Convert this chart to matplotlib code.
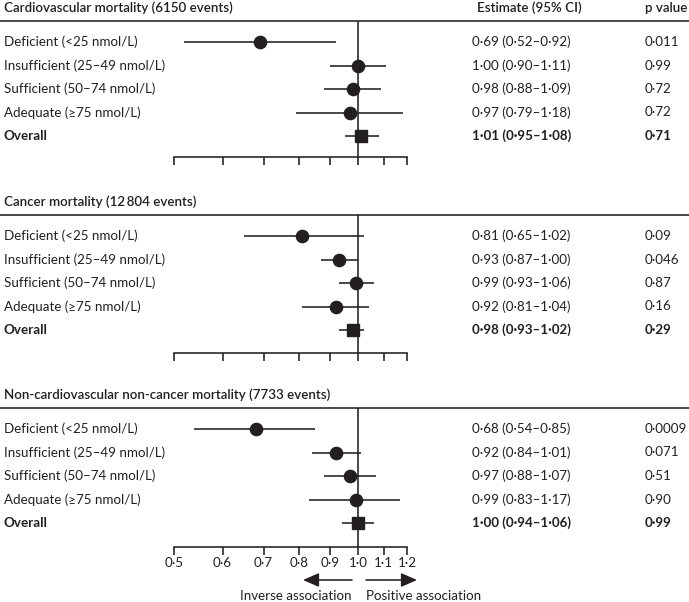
import matplotlib
matplotlib.use("Agg")
import matplotlib.pyplot as plt
from matplotlib.ticker import NullLocator, FixedLocator, FixedFormatter
import matplotlib.transforms as mtransforms

plt.rcParams['font.family'] = ['Lato', 'DejaVu Sans']

# ---------------- data ----------------
categories = ["Deficient (<25 nmol/L)", "Insufficient (25\u201349 nmol/L)",
              "Sufficient (50\u201374 nmol/L)", "Adequate (\u226575 nmol/L)", "Overall"]

titles = ["Cardiovascular mortality (6150 events)",
          "Cancer mortality (12\u2009804 events)",
          "Non-cardiovascular non-cancer mortality (7733 events)"]

cv_est = [0.69, 1.00, 0.98, 0.97, 1.01]
cv_lo = [0.52, 0.90, 0.88, 0.79, 0.95]
cv_hi = [0.92, 1.11, 1.09, 1.18, 1.08]
cv_p = ["0\u00b7011", "0\u00b799", "0\u00b772", "0\u00b772", "0\u00b771"]

ca_est = [0.81, 0.93, 0.99, 0.92, 0.98]
ca_lo = [0.65, 0.87, 0.93, 0.81, 0.93]
ca_hi = [1.02, 1.00, 1.06, 1.04, 1.02]
ca_p = ["0\u00b709", "0\u00b7046", "0\u00b787", "0\u00b716", "0\u00b729"]

nc_est = [0.68, 0.92, 0.97, 0.99, 1.00]
nc_lo = [0.54, 0.84, 0.88, 0.83, 0.94]
nc_hi = [0.85, 1.01, 1.07, 1.17, 1.06]
nc_p = ["0\u00b70009", "0\u00b7071", "0\u00b751", "0\u00b790", "0\u00b799"]

tick_values = [0.5, 0.6, 0.7, 0.8, 0.9, 1.0, 1.1, 1.2]
tick_labels = ["0\u00b75", "0\u00b76", "0\u00b77", "0\u00b78", "0\u00b79", "1\u00b70", "1\u00b71", "1\u00b72"]

header_est = "Estimate (95% CI)"
header_p = "p value"
arrow_left_label = "Inverse association"
arrow_right_label = "Positive association"

panels = [(titles[0], cv_est, cv_lo, cv_hi, cv_p),
          (titles[1], ca_est, ca_lo, ca_hi, ca_p),
          (titles[2], nc_est, nc_lo, nc_hi, nc_p)]

# ---------------- layout ----------------
W, H = 689, 602
DPI = 100
fig = plt.figure(figsize=(W / DPI, H / DPI), dpi=DPI)
INK = "#231f20"
FS = 9.6
LW = 1.15


def fx(px):
    return px / W


def fy(py):
    return 1 - py / H


def dot(v):
    return f"{v:.2f}".replace(".", "\u00b7")


sep_y = [21, 215, 408]
axis_y = [157, 353, 547]
row0_off = 21.0
row_step = 23.5
ax_left, ax_right = 174, 407
x_label, x_est, x_p = 4, 472, 645
x_hdr_est = 477

for i, (title, est, lo, hi, pv) in enumerate(panels):
    S, B = sep_y[i], axis_y[i]
    ax = fig.add_axes([fx(ax_left), fy(B), (ax_right - ax_left) / W, (B - S) / H])
    ax.set_xscale("log")
    ax.set_xlim(0.5, 1.2)
    top = -row0_off / row_step
    bottom = (B - S - row0_off) / row_step
    ax.set_ylim(bottom, top)
    for s in ("top", "left", "right"):
        ax.spines[s].set_visible(False)
    ax.spines["bottom"].set_linewidth(LW)
    ax.spines["bottom"].set_color(INK)
    ax.xaxis.set_major_locator(FixedLocator(tick_values))
    ax.xaxis.set_minor_locator(NullLocator())
    if i == 2:
        ax.xaxis.set_major_formatter(FixedFormatter(tick_labels))
    else:
        ax.xaxis.set_major_formatter(FixedFormatter([""] * len(tick_values)))
    ax.tick_params(axis="x", which="major", direction="out", length=5.5, width=LW,
                   color=INK, labelsize=FS, labelcolor=INK, pad=2)
    ax.set_yticks([])
    ax.patch.set_alpha(0)

    ax.axvline(1.0, color=INK, lw=LW, zorder=2)

    rows = list(range(len(categories)))
    for r in rows:
        ax.plot([lo[r], hi[r]], [r, r], color=INK, lw=LW, zorder=3, solid_capstyle="butt")
        m = "s" if r == len(categories) - 1 else "o"
        ax.plot([est[r]], [r], marker=m, ms=8.8, color=INK, mec=INK, zorder=4, ls="none")

    tr = mtransforms.blended_transform_factory(fig.transFigure, ax.transData)
    for r in rows:
        bold = (r == len(categories) - 1)
        fw = "bold" if bold else "normal"
        ax.text(fx(x_label), r, categories[r], transform=tr, ha="left", va="center",
                fontsize=FS, color=INK, fontweight=fw, clip_on=False)
        ax.text(fx(x_est), r, f"{dot(est[r])} ({dot(lo[r])}\u2013{dot(hi[r])})",
                transform=tr, ha="left", va="center", fontsize=FS, color=INK,
                fontweight=fw, clip_on=False)
        ax.text(fx(x_p), r, pv[r], transform=tr, ha="left", va="center",
                fontsize=FS, color=INK, fontweight=fw, clip_on=False)

    # separator and title
    fig.add_artist(plt.Line2D([0, 1], [fy(S), fy(S)], transform=fig.transFigure,
                              color=INK, lw=LW))
    fig.text(fx(x_label), fy(S - 13), title, ha="left", va="center", fontsize=FS,
             color=INK, fontweight="semibold")
    if i == 0:
        fig.text(fx(x_hdr_est), fy(S - 13), header_est, ha="left", va="center",
                 fontsize=FS, color=INK, fontweight="semibold")
        fig.text(fx(x_p), fy(S - 13), header_p, ha="left", va="center",
                 fontsize=FS, color=INK, fontweight="semibold")

# direction arrows
arr_y = H - 580
ap = dict(arrowstyle="-|>,head_length=0.8,head_width=0.35", color=INK, lw=LW,
          mutation_scale=12, shrinkA=0, shrinkB=0)
fig.add_artist(plt.Line2D([], []))
ann1 = plt.annotate("", xy=(303, arr_y), xytext=(352, arr_y), xycoords="figure pixels",
                    textcoords="figure pixels", arrowprops=ap)
ann2 = plt.annotate("", xy=(417, arr_y), xytext=(366, arr_y), xycoords="figure pixels",
                    textcoords="figure pixels", arrowprops=ap)
fig.text(fx(352), fy(596), arrow_left_label, ha="right", va="center", fontsize=FS, color=INK)
fig.text(fx(366), fy(596), arrow_right_label, ha="left", va="center", fontsize=FS, color=INK)

fig.savefig("out.png", dpi=DPI)
